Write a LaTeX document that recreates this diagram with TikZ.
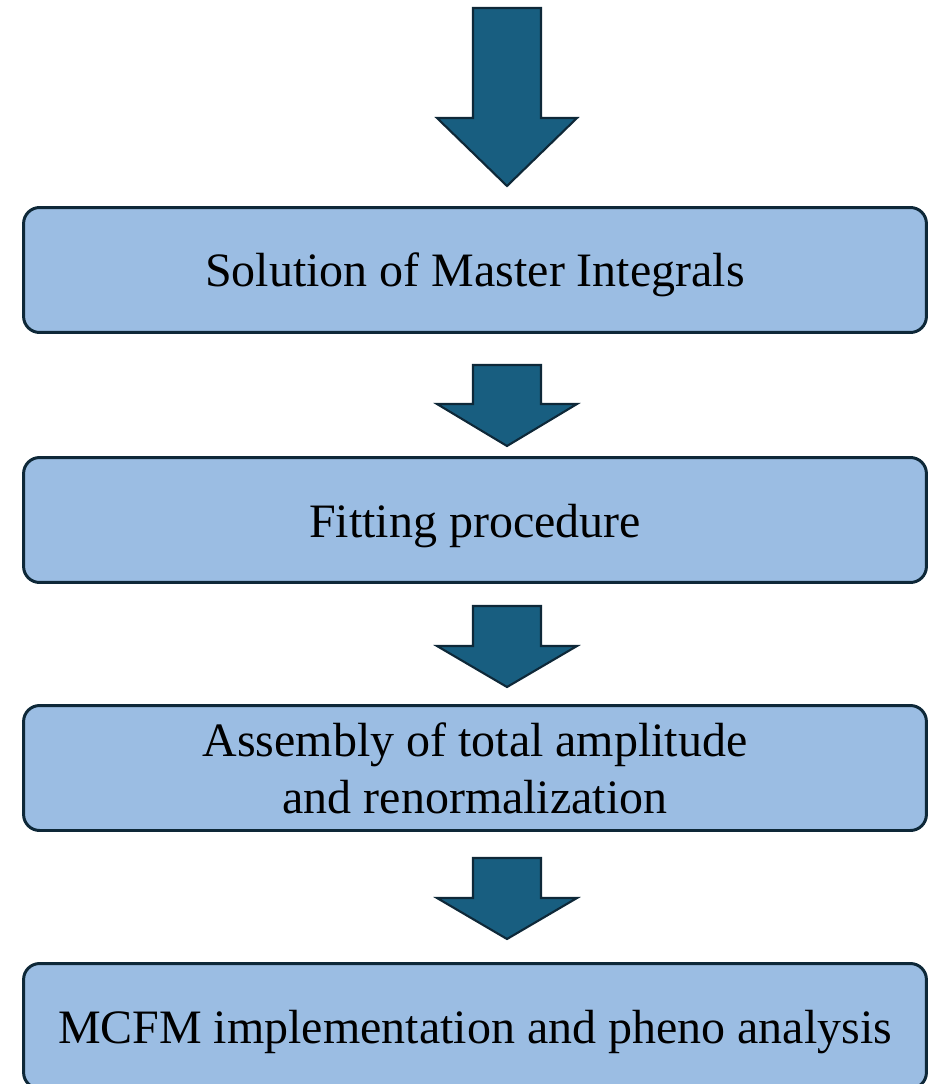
\documentclass[tikz,border=0pt]{standalone}
\usepackage{fontspec}
\setmainfont{Liberation Serif}
\definecolor{boxfill}{RGB}{155,189,227}
\definecolor{arrowfill}{RGB}{24,94,128}
\definecolor{edgecol}{RGB}{14,40,56}
\tikzset{
  stagebox/.style={rectangle, rounded corners=0.32cm, fill=boxfill, draw=edgecol, line width=1.7pt,
    minimum width=18.06cm, minimum height=2.5cm, align=center, font=\fontsize{27.3}{32.6}\selectfont},
  oneline/.style={text height=0.88cm, text depth=0.2cm},
  blockarrow/.style={fill=arrowfill, draw=edgecol, line width=1.2pt, line join=miter}
}
\newcommand{\downarrowshape}[3]{% top of shaft, shoulder, tip (in px)
  \filldraw[blockarrow] (473,#1) -- (541,#1) -- (541,#2) -- (577,#2) -- (507,#3) -- (437,#2) -- (473,#2) -- cycle;}
\begin{document}
\begin{tikzpicture}[x=0.02cm, y=-0.02cm]
   \useasboundingbox (0,0) rectangle (929,1084);
   \downarrowshape{8}{118}{186}
   \node[stagebox, oneline] (masters) at (475,270) {Solution of Master Integrals};
   \downarrowshape{365}{404}{446}
   \node[stagebox, oneline] (fitting) at (475,520) {Fitting procedure};
   \downarrowshape{606}{646}{687}
   \node[stagebox] (assembly) at (475,768) {Assembly of total amplitude\\ and renormalization};
   \downarrowshape{858}{898}{939}
   \node[stagebox, oneline] (mcfm) at (475,1026) {MCFM implementation and pheno analysis};
  \end{tikzpicture}
\end{document}
